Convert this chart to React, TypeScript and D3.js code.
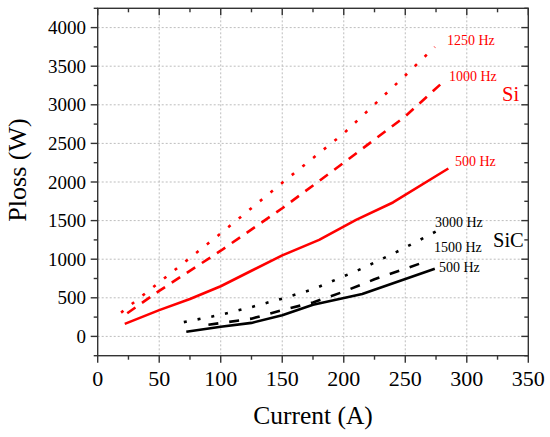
import React from "react";
import * as d3 from "d3";

const siCurrent500 = [22, 50, 75, 100, 125, 150, 180, 210, 240, 285];
const siLoss500 = [162, 340, 485, 650, 850, 1050, 1250, 1510, 1735, 2175];
const siCurrent1000 = [24, 50, 100, 150, 200, 250, 281];
const siLoss1000 = [300, 590, 1110, 1660, 2250, 2850, 3300];
const siCurrent1250 = [19, 50, 100, 150, 200, 250, 274];
const siLoss1250 = [308, 700, 1334, 1990, 2630, 3380, 3750];

const sicCurrent500 = [72, 100, 125, 150, 175, 215, 274];
const sicLoss500 = [60, 125, 175, 275, 410, 550, 877];
const sicCurrent1500 = [90, 125, 150, 175, 200, 225, 265];
const sicLoss1500 = [150, 230, 340, 440, 580, 740, 960];
const sicCurrent3000 = [70, 100, 125, 150, 175, 215, 245, 275];
const sicLoss3000 = [185, 280, 380, 490, 610, 880, 1110, 1360];

const xTicks = [0, 50, 100, 150, 200, 250, 300, 350];
const yTicks = [0, 500, 1000, 1500, 2000, 2500, 3000, 3500, 4000];
const xMinor = [25, 75, 125, 175, 225, 275, 325];
const yMinor = [-250, 250, 750, 1250, 1750, 2250, 2750, 3250, 3750, 4250];

const FONT = "'Liberation Serif', 'Times New Roman', serif";

export default function App() {
  const L = 97.7, R = 528.3, T = 8.3, B = 355.7;
  const x = d3.scaleLinear().domain([0, 350]).range([L, R]);
  const y = d3.scaleLinear().domain([-250, 4250]).range([B, T]);
  const line = d3
    .line<[number, number]>()
    .x((d) => x(d[0]))
    .y((d) => y(d[1]));
  const zip = (a: number[], b: number[]) => a.map((v, i) => [v, b[i]] as [number, number]);

  const series = [
    { d: zip(siCurrent500, siLoss500), color: "#ff0000", dash: "none" },
    { d: zip(siCurrent1000, siLoss1000), color: "#ff0000", dash: "10 8" },
    { d: zip(siCurrent1250, siLoss1250), color: "#ff0000", dash: "3 10.7" },
    { d: zip(sicCurrent500, sicLoss500), color: "#000000", dash: "none" },
    { d: zip(sicCurrent1500, sicLoss1500), color: "#000000", dash: "10 11" },
    { d: zip(sicCurrent3000, sicLoss3000), color: "#000000", dash: "3 11" },
  ];

  const axisColor = "#333";

  return (
    <svg
      width={550}
      height={437}
      style={{ position: "absolute", left: 0, top: 0, background: "#fff" }}
    >
      <rect x={0} y={0} width={550} height={437} fill="#fff" />
      {/* grid */}
      {xTicks.slice(1, -1).map((t) => (
        <line key={"gx" + t} x1={x(t)} x2={x(t)} y1={T} y2={B} stroke="#bdbdbd" strokeWidth={1} strokeDasharray="2 2" />
      ))}
      {yTicks.map((t) => (
        <line key={"gy" + t} x1={L} x2={R} y1={y(t)} y2={y(t)} stroke="#bdbdbd" strokeWidth={1} strokeDasharray="2 2" />
      ))}
      {/* series */}
      {series.map((s, i) => (
        <path
          key={i}
          d={line(s.d) || ""}
          fill="none"
          stroke={s.color}
          strokeWidth={2.6}
          strokeDasharray={s.dash}
          strokeLinejoin="round"
        />
      ))}
      {/* frame */}
      <rect x={L} y={T} width={R - L} height={B - T} fill="none" stroke={axisColor} strokeWidth={1.4} />
      {/* bottom ticks (outward) & top ticks (inward) */}
      {xTicks.map((t) => (
        <g key={"xt" + t}>
          <line x1={x(t)} x2={x(t)} y1={B} y2={B + 7} stroke={axisColor} strokeWidth={1.4} />
          <line x1={x(t)} x2={x(t)} y1={T} y2={T + 7} stroke={axisColor} strokeWidth={1.4} />
          <text x={x(t)} y={386} textAnchor="middle" fontFamily={FONT} fontSize={22} fill="#000">
            {t}
          </text>
        </g>
      ))}
      {xMinor.map((t) => (
        <g key={"xm" + t}>
          <line x1={x(t)} x2={x(t)} y1={B} y2={B + 4} stroke={axisColor} strokeWidth={1.4} />
          <line x1={x(t)} x2={x(t)} y1={T} y2={T + 4} stroke={axisColor} strokeWidth={1.4} />
        </g>
      ))}
      {yTicks.map((t) => (
        <g key={"yt" + t}>
          <line x1={L - 7} x2={L} y1={y(t)} y2={y(t)} stroke={axisColor} strokeWidth={1.4} />
          <line x1={R - 7} x2={R} y1={y(t)} y2={y(t)} stroke={axisColor} strokeWidth={1.4} />
          <text x={86} y={y(t) + 6.5} textAnchor="end" fontFamily={FONT} fontSize={19} fill="#000">
            {t}
          </text>
        </g>
      ))}
      {yMinor.map((t) => (
        <g key={"ym" + t}>
          <line x1={L - 4} x2={L} y1={y(t)} y2={y(t)} stroke={axisColor} strokeWidth={1.4} />
          <line x1={R - 4} x2={R} y1={y(t)} y2={y(t)} stroke={axisColor} strokeWidth={1.4} />
        </g>
      ))}
      {/* axis titles */}
      <text x={313} y={424} textAnchor="middle" fontFamily={FONT} fontSize={25.5} fill="#000">
        Current (A)
      </text>
      <text
        transform="translate(26,170) rotate(-90)"
        textAnchor="middle"
        fontFamily={FONT}
        fontSize={26}
        fill="#000"
      >
        Ploss (W)
      </text>
      {/* annotations */}
      <text x={447} y={45} fontFamily={FONT} fontSize={14} fill="#ff0000">1250 Hz</text>
      <text x={449} y={80.5} fontFamily={FONT} fontSize={14} fill="#ff0000">1000 Hz</text>
      <text x={455} y={165.5} fontFamily={FONT} fontSize={14} fill="#ff0000">500 Hz</text>
      <text x={502} y={101} fontFamily={FONT} fontSize={20.5} fill="#ff0000">Si</text>
      <text x={435} y={227} fontFamily={FONT} fontSize={14} fill="#000">3000 Hz</text>
      <text x={434} y={252} fontFamily={FONT} fontSize={14} fill="#000">1500 Hz</text>
      <text x={439} y={271.5} fontFamily={FONT} fontSize={14} fill="#000">500 Hz</text>
      <text x={493} y={246.5} fontFamily={FONT} fontSize={20.5} fill="#000">SiC</text>
    </svg>
  );
}
